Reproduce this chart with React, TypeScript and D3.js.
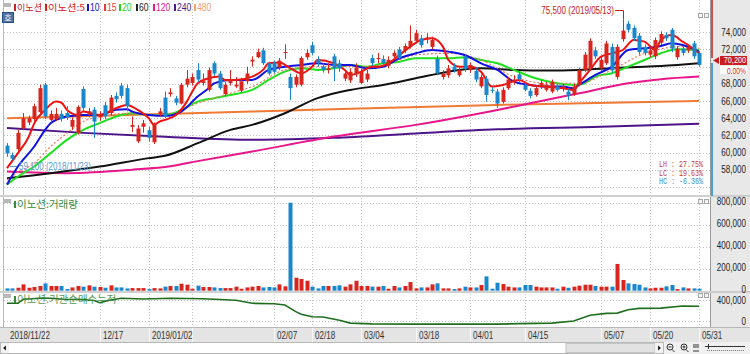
import React from "react";
import * as d3 from "d3";

// ---------- categories: trading days ----------
const MONTHS: [string, number[]][] = [
  ["2018-11", [22, 23, 26, 27, 28, 29, 30]],
  ["2018-12", [3, 4, 5, 6, 7, 10, 11, 12, 13, 14, 17, 18, 19, 20, 21, 24, 26, 27, 28]],
  ["2019-01", [2, 3, 4, 7, 8, 9, 10, 11, 14, 15, 16, 17, 18, 21, 22, 23, 24, 25, 28, 29, 30, 31]],
  ["2019-02", [1, 7, 8, 11, 12, 13, 14, 15, 18, 19, 20, 21, 22, 25, 26, 27, 28]],
  ["2019-03", [4, 5, 6, 7, 8, 11, 12, 13, 14, 15, 18, 19, 20, 21, 22, 25, 26, 27, 28, 29]],
  ["2019-04", [1, 2, 3, 4, 5, 8, 9, 10, 11, 12, 15, 16, 17, 18, 19, 22, 23, 24, 25, 26, 29, 30]],
  ["2019-05", [2, 3, 7, 8, 9, 10, 13, 14, 15, 16, 17, 20, 21, 22, 23, 24, 27, 28, 29, 30, 31]],
];
const dates: string[] = MONTHS.flatMap(([m, ds]) => ds.map((d) => `${m}-${String(d).padStart(2, "0")}`));

// ---------- price series (KRW) ----------
const opens = [
  60800, 59700, 60400, 62800, 63500, 63900, 64700, 67900, 63800, 63900,
  64500, 64600, 63000, 62300, 67400, 64400, 65000, 64100, 65500, 64600,
  66600, 67800, 67500, 63000, 61300, 63000, 62600, 61200, 64500, 66400,
  66800, 66300, 65700, 67900, 68100, 69600, 68100, 67300, 70400, 69200,
  66800, 68100, 67700, 67200, 68300, 70600, 71100, 71900, 70400, 70400,
  69900, 71600, 68800, 67900, 67900, 71100, 72500, 70800, 70000, 69600,
  71200, 70400, 68600, 68400, 69100, 68100, 68500, 71000, 70900, 70900,
  70100, 71200, 72000, 71900, 72400, 73000, 73300, 73200, 72300, 70900,
  68800, 69000, 70000, 69000, 71200, 69600, 69500, 67700, 68600, 67300,
  67100, 65900, 67500, 68400, 69100, 67900, 67200, 66700, 67700, 67300,
  67100, 67700, 67400, 67100, 66800, 67900, 69600, 69800, 71900, 69800,
  70400, 72300, 68800, 73200, 75000, 74500, 73600, 72300, 71400, 71200,
  72800, 73700, 74300, 71100, 72100, 71900, 72700, 71600,
];
const highs = [
  61100, 60000, 62700, 64600, 64300, 65700, 67900, 68100, 64900, 65200,
  64900, 65400, 64100, 65500, 67700, 65200, 65300, 64800, 65900, 66700,
  67000, 68100, 67900, 64200, 63200, 63800, 63000, 63500, 65200, 67100,
  67500, 66600, 68100, 69600, 69200, 70400, 69200, 69900, 70600, 69500,
  68200, 69600, 68800, 68700, 70000, 71200, 72100, 72200, 70600, 70700,
  71000, 72600, 69200, 69100, 71200, 72000, 72900, 71200, 70400, 70400,
  71500, 70800, 69600, 69800, 70400, 69800, 69600, 71400, 71600, 71300,
  71200, 71900, 72300, 72700, 74800, 74300, 73700, 73900, 73500, 71300,
  69600, 70200, 70400, 70000, 71500, 70500, 69900, 69100, 68900, 67600,
  67400, 67600, 68800, 69000, 69400, 68200, 67500, 67800, 68400, 68200,
  68500, 68000, 68000, 67400, 68000, 69900, 71700, 73300, 72300, 71200,
  73000, 72700, 72600, 75500, 75300, 74800, 73900, 72600, 72200, 73400,
  74100, 74000, 74500, 72400, 72400, 72600, 73000, 71800,
];
const lows = [
  59500, 59100, 60200, 62600, 63200, 63600, 64500, 63900, 63500, 63700,
  63600, 63800, 62600, 62100, 64800, 64100, 61700, 63700, 63900, 64300,
  65800, 66300, 64800, 62400, 61100, 62300, 61300, 61000, 64200, 64000,
  66500, 65500, 65600, 67600, 67800, 68200, 67800, 67100, 68900, 67300,
  66600, 67800, 67500, 67000, 68000, 70000, 71000, 70200, 69000, 69200,
  69600, 70900, 66100, 67600, 67700, 70800, 71300, 70000, 69300, 69200,
  68300, 69400, 68300, 68100, 68800, 68000, 68200, 70100, 70400, 70100,
  69800, 70900, 70800, 71600, 72100, 72700, 72200, 72700, 72000, 69000,
  68500, 68700, 69300, 68800, 69400, 69300, 68200, 67500, 65900, 66900,
  65200, 65700, 67300, 67900, 68200, 67100, 66300, 66500, 67400, 67100,
  66900, 67100, 67100, 66100, 66600, 67700, 69400, 69600, 70900, 69500,
  70200, 69300, 68500, 72900, 74000, 73000, 71400, 71300, 71100, 70900,
  72500, 73000, 71700, 70800, 71300, 71600, 70900, 70000,
];
const closes = [
  59900, 59300, 62300, 64000, 64000, 65400, 67500, 64200, 64500, 64500,
  63900, 64100, 63800, 65300, 65200, 64800, 63600, 64400, 64200, 66400,
  66200, 66600, 65400, 63200, 62800, 63400, 61700, 63200, 64800, 64200,
  67000, 65800, 67900, 68600, 68800, 68500, 68300, 69600, 69200, 67500,
  67900, 68500, 67900, 68300, 69200, 70800, 71700, 70400, 69200, 69400,
  70700, 71700, 67500, 68800, 71000, 71600, 71600, 70400, 69600, 69800,
  69800, 69800, 69200, 69400, 69900, 69400, 69200, 70400, 71000, 70400,
  70800, 71600, 71000, 72400, 73000, 73900, 72500, 73400, 73100, 69200,
  69200, 69800, 69600, 69600, 69700, 70200, 68500, 68800, 66700, 67200,
  65700, 67300, 68500, 68500, 68500, 67300, 66600, 67500, 68100, 67900,
  68200, 67300, 67700, 66600, 67700, 69600, 71400, 73000, 71200, 70800,
  72700, 69600, 72300, 74200, 74300, 73300, 71700, 71600, 71900, 73100,
  73800, 73300, 72100, 72100, 71600, 72300, 71200, 70200,
];
// volume, thousand shares
const volumes = [
  21, 21, 27, 58, 27, 34, 43, 67, 43, 43,
  43, 15, 30, 43, 37, 49, 37, 34, 27, 49,
  30, 30, 21, 24, 24, 24, 15, 24, 21, 37,
  43, 43, 64, 55, 18, 46, 34, 34, 30, 24,
  24, 24, 37, 18, 30, 37, 43, 30, 34, 30,
  58, 40, 805, 119, 107, 91, 37, 21, 43, 43,
  43, 49, 37, 58, 91, 43, 43, 37, 37, 43,
  18, 43, 30, 43, 79, 21, 30, 30, 58, 67,
  21, 21, 15, 21, 37, 30, 30, 52, 131, 18,
  73, 61, 37, 30, 30, 52, 52, 37, 30, 30,
  30, 18, 37, 27, 37, 46, 55, 55, 43, 37,
  37, 37, 245, 98, 67, 61, 55, 30, 21, 27,
  27, 40, 52, 15, 30, 21, 21, 18,
];

// ---------- moving averages, read at trading-day index ----------
type K = [number, number];
const ma5: K[] = [[0,58180],[2,59930],[4,61860],[5,63400],[7,64970],[9,65930],[10,65800],[11,64970],[13,64380],[14,64770],[17,64380],[20,65160],[22,65550],[24,64970],[26,64000],[27,63220],[28,63610],[29,63800],[31,64380],[33,65930],[34,67100],[35,68070],[37,68650],[39,68840],[40,68450],[42,68450],[45,68840],[47,69620],[48,70390],[50,70470],[52,69810],[54,69230],[56,70000],[57,70780],[60,70390],[62,69620],[63,69030],[65,69420],[67,70000],[68,70000],[70,70390],[72,71360],[74,72330],[76,73110],[78,73300],[80,72330],[81,70780],[83,70000],[85,70000],[87,69420],[89,67680],[91,67870],[94,68450],[96,67870],[99,67680],[102,67480],[104,67290],[105,68070],[107,69620],[109,71170],[111,71550],[113,71940],[115,73110],[117,72910],[119,71940],[120,73110],[122,73690],[124,72910],[125,72520],[127,71550]];
const ma10: K[] = [[0,56280],[2,58370],[5,60700],[7,62640],[8,63420],[11,64190],[14,64380],[17,64380],[20,64970],[22,65040],[23,64770],[26,64380],[29,64270],[32,64770],[35,66520],[37,67480],[38,68060],[41,68450],[45,68450],[48,69620],[51,70000],[54,70200],[57,70390],[60,70200],[63,70200],[66,69810],[69,70000],[72,70970],[75,71550],[78,71940],[81,71750],[84,71360],[87,70390],[90,69620],[93,68260],[96,67870],[99,67680],[102,67680],[104,67480],[105,67870],[108,69030],[111,70000],[114,71940],[117,72140],[120,72410],[122,72720],[124,72520],[127,71750]];
const ma15: K[] = [[0,56800],[2,57700],[5,58760],[8,60700],[11,62250],[14,63610],[17,64190],[23,64580],[29,64380],[35,65740],[42,67100],[45,67680],[51,69620],[57,70000],[63,70000],[69,70200],[75,71360],[81,71550],[87,70780],[93,68840],[99,68070],[105,68070],[111,69620],[117,71550],[124,72330],[127,72140]];
const ma20: K[] = [[0,56240],[2,57210],[5,58370],[8,59930],[11,61480],[14,62640],[17,63420],[20,64190],[23,64580],[26,64380],[29,64380],[32,64960],[35,65930],[38,66330],[41,66710],[45,67290],[48,68450],[51,69420],[54,69810],[57,69620],[60,69810],[63,70200],[66,70000],[69,70390],[72,70580],[75,70970],[78,70970],[81,70970],[84,71090],[87,70780],[90,70390],[93,69620],[97,68650],[101,68070],[104,67870],[106,68070],[108,68840],[111,69230],[114,70000],[117,70780],[120,71560],[123,72020],[127,71940]];
const ma60: K[] = [[0,57020],[8,57600],[17,58370],[26,59350],[29,59620],[35,61090],[41,62640],[45,63220],[51,64580],[57,66330],[63,67290],[69,67870],[75,68650],[81,69420],[87,69810],[93,69620],[99,69540],[105,69620],[111,69810],[117,70000],[123,70200],[127,70390]];
const ma120: K[] = [[0,57790],[11,57600],[23,58000],[30,58400],[35,59000],[45,60120],[60,61860],[75,63220],[90,64960],[96,65740],[105,66900],[114,68070],[120,68530],[127,68840]];
const ma240: K[] = [[0,62870],[14,62290],[29,61830],[45,61480],[60,61710],[75,62230],[90,62700],[109,62990],[127,63340]];
const ma480: K[] = [[0,64000],[45,64770],[90,65550],[127,66020]];

// institution net-buy cumulative, thousand shares
const instCum: K[] = [[0,337],[2,340],[3,413],[6,432],[8,432],[11,410],[13,415],[16,390],[17,349],[19,400],[21,432],[25,420],[30,432],[36,425],[42,395],[45,337],[49,330],[51,305],[53,178],[54,130],[56,82],[58,75],[61,15],[63,-40],[67,-55],[75,-60],[90,-60],[94,-50],[100,-40],[104,0],[107,110],[110,146],[112,150],[114,215],[116,241],[120,245],[124,286],[127,280]];

// ---------- axis ticks ----------
const priceTicks = [58000, 60000, 62000, 64000, 66000, 68000, 72000, 74000];
const priceGrid = [56000, 58000, 60000, 62000, 64000, 66000, 68000, 70000, 72000, 74000];
const volTicks = [0, 200, 400, 600, 800];
const instTicks = [0, 400];
const gridDays = ["2018-12-03", "2018-12-17", "2019-01-02", "2019-01-14", "2019-02-07", "2019-02-18", "2019-03-04", "2019-03-18", "2019-04-01", "2019-04-15", "2019-05-07", "2019-05-20", "2019-05-31"];
const dateLabels: [string, string][] = [
  ["2018-11-22", "2018/11/22"], ["2018-12-17", "12/17"], ["2019-01-02", "2019/01/02"], ["2019-02-07", "02/07"],
  ["2019-02-18", "02/18"], ["2019-03-04", "03/04"], ["2019-03-18", "03/18"], ["2019-04-01", "04/01"],
  ["2019-04-15", "04/15"], ["2019-05-07", "05/07"], ["2019-05-20", "05/20"], ["2019-05-31", "05/31"],
];
const legendItems: [string, string, number][] = [
  ["이노션", "#c8202a", 14], ["이노션:5", "#e01818", 45], ["10", "#1414d8", 87], ["15", "#e83c3c", 104],
  ["20", "#22d022", 119], ["60", "#222222", 136], ["120", "#e01888", 153], ["240", "#4a1a8c", 174], ["480", "#f4a070", 194],
];

const RED = "#d8261e";
const BLUE = "#1a86cc";
const SANS = "'Liberation Sans', Arial, sans-serif";
const KR = "'Noto Sans CJK KR', 'Noto Sans', sans-serif";
const MONO = "'Liberation Mono', 'DejaVu Sans Mono', monospace";

// target advance of the narrow bitmap-like font (px at size 10) vs. Liberation Sans advance (em)
const CW: Record<string, number> = { ",": 2.2, "/": 2.3, ".": 2.2, "%": 5.5, " ": 2.2, "(": 2.6, ")": 2.6, "-": 2.6, ":": 2.2 };
const AW: Record<string, number> = { ",": 0.278, "/": 0.278, ".": 0.278, "%": 0.889, " ": 0.278, "(": 0.333, ")": 0.333, "-": 0.333, ":": 0.278 };
const narrowLen = (s: string) => s.split("").reduce((a, ch) => a + (CW[ch] ?? 4.5), 0);
const naturalLen = (s: string) => s.split("").reduce((a, ch) => a + (AW[ch] ?? 0.556) * 10, 0);

function NText(props: { x: number; y: number; t: string; fill: string; anchor?: string; size?: number }) {
  const { x, y, t, fill, anchor, size } = props;
  const sx = narrowLen(t) / naturalLen(t);
  return (
    <text transform={`translate(${x},${y}) scale(${sx.toFixed(3)},1)`} fontFamily={SANS} fontSize={size ?? 10}
      fill={fill} textAnchor={anchor ?? "start"}>
      {t}
    </text>
  );
}

export default function App() {
  const idx = (d: string) => dates.indexOf(d);
  const x = d3.scaleLinear().domain([0, dates.length - 1]).range([7, 699]);
  const yP = d3.scaleLinear().domain([56000, 74000]).range([186.9, 32.3]);
  const yV = d3.scaleLinear().domain([0, 800]).range([290.7, 203.3]);
  const yI = d3.scaleLinear().domain([0, 400]).range([321, 300]);
  const fmt = d3.format(",");

  const maPath = (k: K[]) =>
    d3.line<K>().x((d) => x(d[0])).y((d) => yP(d[1])).curve(d3.curveMonotoneX)(k) || "";
  const instPath = d3.line<K>().x((d) => x(d[0])).y((d) => yI(d[1]))(instCum) || "";

  const maDefs: [K[], string, number, string?][] = [
    [ma480, "#f07a34", 2],
    [ma240, "#4b1488", 2],
    [ma120, "#e8168a", 2],
    [ma60, "#111111", 2],
    [ma20, "#1ee01e", 2],
    [ma15, "#f07a5a", 1.2, "2 2"],
    [ma10, "#1010e0", 2],
    [ma5, "#f01010", 2],
  ];

  const lastClose = closes[closes.length - 1];
  const hiIdx = d3.maxIndex(highs);
  const loIdx = d3.minIndex(lows);
  const hiText = `${fmt(highs[hiIdx])} (2019/05/13)`;
  const loText = `${fmt(lows[loIdx])} (2018/11/23)`;

  return (
    <svg width={750} height={354} style={{ position: "fixed", left: 0, top: 0, background: "#fff" }}>
      <defs>
        <clipPath id="mainClip"><rect x={3} y={0} width={707} height={195} /></clipPath>
        <clipPath id="instClip"><rect x={3} y={293} width={707} height={33} /></clipPath>
      </defs>
      <rect x={0} y={0} width={750} height={354} fill="#fff" />

      {/* right axis background */}
      <rect x={711} y={0} width={39} height={328} fill="#e8e8e8" />
      <line x1={710.5} x2={710.5} y1={0} y2={328} stroke="#9a9a9a" />
      <line x1={3.5} x2={3.5} y1={0} y2={328} stroke="#b8b8b8" />

      {/* grids */}
      <g stroke="#c4c4c4" strokeDasharray="1 2" shapeRendering="crispEdges">
        {priceGrid.map((p) => (
          <line key={"pg" + p} x1={4} x2={710} y1={Math.round(yP(p)) + 0.5} y2={Math.round(yP(p)) + 0.5} />
        ))}
        {volTicks.slice(1).map((v) => (
          <line key={"vg" + v} x1={4} x2={710} y1={Math.round(yV(v)) + 0.5} y2={Math.round(yV(v)) + 0.5} />
        ))}
        {instTicks.map((v) => (
          <line key={"ig" + v} x1={4} x2={710} y1={Math.round(yI(v)) + 0.5} y2={Math.round(yI(v)) + 0.5} />
        ))}
        {gridDays.map((d) => (
          <line key={"dg" + d} x1={Math.round(x(idx(d))) + 0.5} x2={Math.round(x(idx(d))) + 0.5} y1={0} y2={327} />
        ))}
      </g>

      {/* panel separators */}
      <rect x={0} y={195} width={711} height={2} fill="#d0d0d0" />
      <rect x={0} y={291} width={711} height={2} fill="#d0d0d0" />
      <line x1={711} x2={750} y1={196} y2={196} stroke="#b0b0b0" />
      <line x1={711} x2={750} y1={292} y2={292} stroke="#b0b0b0" />

      {/* moving averages + candles */}
      <g clipPath="url(#mainClip)">
        {maDefs.map(([k, c, w, dash], j) => (
          <path key={"ma" + j} d={maPath(k)} fill="none" stroke={c} strokeWidth={w} strokeDasharray={dash} />
        ))}
        {dates.map((d, i) => {
          const up = closes[i] >= opens[i];
          const c = up ? RED : BLUE;
          const cx = Math.round(x(i));
          const top = yP(Math.max(opens[i], closes[i]));
          const bot = yP(Math.min(opens[i], closes[i]));
          return (
            <g key={"c" + d}>
              <line x1={cx + 0.5} x2={cx + 0.5} y1={yP(highs[i])} y2={yP(lows[i])} stroke={c} />
              <rect x={cx - 1.5} y={top} width={4} height={Math.max(1, bot - top)} fill={c} />
            </g>
          );
        })}
      </g>

      {/* high annotation */}
      <NText x={614} y={14} t={hiText} fill="#c82020" anchor="end" />
      <path d={`M615,10.5 H${Math.round(x(hiIdx)) + 0.5} V${yP(highs[hiIdx])}`} fill="none" stroke="#c82020" />
      {/* low annotation */}
      <line x1={10} x2={17} y1={166.5} y2={166.5} stroke="#5a9ad6" />
      <NText x={19} y={170} t={loText} fill="#5a9ad6" />

      {/* LH / LC / HC */}
      <g fontFamily={MONO} fontSize={9}>
        <text x={659} y={167} fill="#c83838" textLength={44} lengthAdjust="spacingAndGlyphs">LH : 27.75%</text>
        <text x={659} y={175.5} fill="#c83838" textLength={44} lengthAdjust="spacingAndGlyphs">LC : 19.63%</text>
        <text x={659} y={184} fill="#3a8ad0" textLength={44} lengthAdjust="spacingAndGlyphs">HC : -6.36%</text>
      </g>

      {/* legend */}
      <rect x={4} y={3} width={7} height={4} fill="#b8b8b8" />
      <rect x={2.5} y={12.5} width={11} height={10} fill="#4d74a8" stroke="#2c4f80" />
      <text x={8} y={20.5} fontFamily={KR} fontSize={8} fill="#fff" textAnchor="middle">호</text>
      {legendItems.map(([t, c, lx]) => {
        const num = /^\d+$/.test(t);
        return (
          <g key={"lg" + t}>
            <rect x={lx} y={4} width={2} height={7} fill={c} />
            {num ? (
              <text x={lx + 3} y={11} fontFamily={SANS} fontSize={11} fill={c} textLength={t.length * 4.8} lengthAdjust="spacingAndGlyphs">{t}</text>
            ) : (
              <text x={lx + 3} y={11} fontFamily={KR} fontSize={9.5} fill={c} textLength={t === "이노션" ? 25 : 37} lengthAdjust="spacingAndGlyphs">{t}</text>
            )}
          </g>
        );
      })}

      {/* corner icons */}
      {[13, 199, 293].map((yy) => (
        <g key={"ci" + yy} fill="#f4f4f4" stroke="#a8a8a8">
          <rect x={698.5} y={yy + 0.5} width={4} height={4} />
          <rect x={704.5} y={yy + 0.5} width={4} height={4} />
        </g>
      ))}

      {/* volume */}
      {dates.map((d, i) => {
        const up = closes[i] >= opens[i];
        const cx = Math.round(x(i));
        return (
          <rect key={"v" + d} x={cx - 1.5} y={yV(volumes[i])} width={4} height={yV(0) - yV(volumes[i])} fill={up ? RED : BLUE} />
        );
      })}
      <rect x={4} y={199} width={7} height={4} fill="#b8b8b8" />
      <rect x={14} y={201} width={2} height={7} fill="#3a8a3a" />
      <text x={17} y={208} fontFamily={KR} fontSize={10.5} fill="#3a8a3a">이노션:거래량</text>

      {/* institution cumulative */}
      <g clipPath="url(#instClip)">
        <path d={instPath} fill="none" stroke="#1e6e1e" strokeWidth={1.6} />
      </g>
      <rect x={4} y={294} width={7} height={4} fill="#b8b8b8" />
      <rect x={14} y={296} width={2} height={7} fill="#3a8a3a" />
      <text x={17} y={303} fontFamily={KR} fontSize={10.5} fill="#3a8a3a" opacity={0.85}>이노션:기관순매수누적</text>

      {/* right axis labels */}
      {priceTicks.map((p) => (
        <NText key={"pt" + p} x={746} y={yP(p) + 3.5} t={fmt(p)} fill="#222" anchor="end" />
      ))}
      {volTicks.map((v) => (
        <NText key={"vt" + v} x={746} y={yV(v) + 2} t={fmt(v * 1000)} fill="#222" anchor="end" />
      ))}
      {instTicks.map((v) => (
        <NText key={"it" + v} x={746} y={yI(v) + 3.5} t={fmt(v * 1000)} fill="#222" anchor="end" />
      ))}

      {/* range bar and current price */}
      <line x1={712} x2={712} y1={0} y2={58} stroke="#c81e1e" strokeWidth={1.5} />
      <line x1={712} x2={712} y1={63} y2={196} stroke="#1a86cc" strokeWidth={1.5} />
      <path d="M713,60.5 L719,57 L719,64 Z" fill="#c81e1e" />
      <rect x={720} y={56} width={27} height={9} fill="#c81e1e" />
      <NText x={746} y={63.2} t={fmt(lastClose)} fill="#fff" anchor="end" size={9} />
      <rect x={720} y={66} width={27} height={8} fill="#fff" />
      <NText x={746} y={73.6} t="0.00%" fill="#d02020" anchor="end" size={9} />

      {/* date axis */}
      <rect x={0} y={327} width={750} height={15} fill="#e4e4e4" />
      <line x1={0} x2={750} y1={327.5} y2={327.5} stroke="#b8b8b8" />
      {gridDays.map((d) => (
        <line key={"dt" + d} x1={Math.round(x(idx(d))) + 0.5} x2={Math.round(x(idx(d))) + 0.5} y1={328} y2={342} stroke="#f8f8f8" />
      ))}
      {dateLabels.map(([d, t]) => (
        <NText key={"dl" + d} x={Math.round(x(idx(d))) + 3} y={339} t={t} fill="#333" />
      ))}

      {/* scrollbar */}
      <rect x={0} y={342} width={750} height={12} fill="#f0f0f0" />
      <rect x={0.5} y={342.5} width={663} height={11} fill="#fff" stroke="#b8b8b8" />
      <rect x={1} y={343} width={8} height={10} fill="#f2f2f2" />
      <path d="M3,348 L6,345.5 L6,350.5 Z" fill="#222" />
      <rect x={566} y={343.5} width={89} height={9} fill="#e2e2e2" stroke="#c4c4c4" />
      <rect x={655} y={343} width={8} height={10} fill="#f2f2f2" />
      <path d="M661,348 L658,345.5 L658,350.5 Z" fill="#222" />
      <g stroke="#333" fill="none">
        <circle cx={670} cy={347} r={3} />
        <line x1={672} y1={349.5} x2={674.5} y2={352} />
        <line x1={668.5} y1={347} x2={671.5} y2={347} />
        <circle cx={684} cy={347} r={3} />
        <line x1={686} y1={349.5} x2={688.5} y2={352} />
        <line x1={682.5} y1={347} x2={685.5} y2={347} />
        <line x1={684} y1={345.5} x2={684} y2={348.5} />
        <line x1={694} y1={344} x2={694} y2={348} />
        <line x1={696} y1={344} x2={696} y2={348} />
        <line x1={698} y1={344} x2={698} y2={348} />
        <line x1={693} y1={351} x2={699} y2={351} />
        <line x1={705} y1={346.5} x2={745} y2={346.5} />
        <line x1={707} y1={350.5} x2={745} y2={350.5} stroke="#777" strokeDasharray="1 1" />
        <line x1={708.5} y1={344} x2={708.5} y2={349} />
      </g>
    </svg>
  );
}
